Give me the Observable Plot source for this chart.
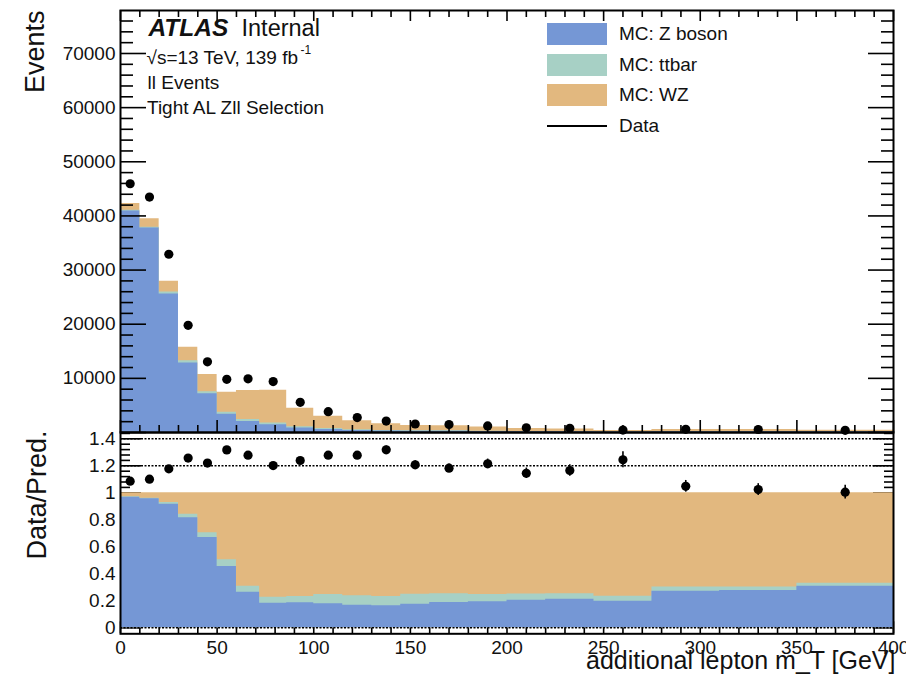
<!DOCTYPE html>
<html>
<head>
<meta charset="utf-8">
<script src="https://cdn.jsdelivr.net/npm/d3@7"></script>
<script src="https://cdn.jsdelivr.net/npm/@observablehq/plot@0.6"></script>
<style>
  html, body { margin: 0; padding: 0; background: #fff; }
  #fig { position: relative; width: 906px; height: 676px; overflow: hidden; background: #fff;
         font-family: "Liberation Sans", Arial, sans-serif; color: #111; }
  #fig svg { position: absolute; left: 0; overflow: visible; }
  .leg-row { position: absolute; left: 547px; height: 22px; }
  .leg-sw { position: absolute; left: 0; top: 0; width: 60px; height: 22px; }
  .leg-line { position: absolute; left: 0; top: 10px; width: 60px; height: 2px; background: #000; }
  .leg-txt { position: absolute; left: 72px; top: 0; line-height: 22px; font-size: 19px; white-space: nowrap; }
</style>
</head>
<body>
<div id="fig"></div>
<script>
// Variable-width bins in additional lepton m_T [GeV]
const binEdges = [0, 10, 20, 30, 40, 50, 60, 72, 86, 100, 115, 130, 145, 160, 180, 200, 220, 245, 275, 310, 350, 400];

// Events per bin for each MC sample and for data
const zBoson = [40900, 37760, 25600, 12836, 7158, 3382, 2046, 1423, 833, 534, 359, 261, 228, 234, 193, 155, 139, 71, 152, 149, 123];
const ttbar  = [150, 150, 335, 410, 375, 373, 341, 352, 212, 207, 151, 110, 94, 81, 54, 36, 28, 13, 17, 14, 9];
const wz     = [1250, 1590, 2015, 2504, 3167, 3695, 5363, 6045, 3455, 2259, 1640, 1229, 978, 935, 753, 569, 493, 276, 391, 377, 268];
const data   = [45938, 43490, 32925, 19798, 13054, 9819, 9912, 9400, 5576, 3837, 2750, 2109, 1569, 1478, 1215, 870, 769, 448, 587, 553, 402];

// Tick labels
const xTickLabels = [0, 50, 100, 150, 200, 250, 300, 350, 400];
const eventTickLabels = [10000, 20000, 30000, 40000, 50000, 60000, 70000];
const ratioTickLabels = [0, 0.2, 0.4, 0.6, 0.8, 1, 1.2, 1.4];

// Legend entries
const legendLabels = ["MC: Z boson", "MC: ttbar", "MC: WZ", "Data"];

const C_Z = "#7597d5", C_TT = "#a7d0c5", C_WZ = "#e2b87f";
const colors = [C_Z, C_TT, C_WZ];

// Panel geometry (pixels) and scale domains
const W = 906;
const L = 120, R = 893;
const TOP_H = 433, TOP_MT = 10, TOP_MB = 1;          // upper pad spans y 10..432
const BOT_TOP = 432, BOT_H = 244, BOT_MB = 42.7;     // ratio pad spans y 432..633.3
const X_DOMAIN = [0, 400];
const TOP_Y = [0, 77940];
const BOT_Y = [-0.0444, 1.4467];

const xu = px => px * (X_DOMAIN[1] - X_DOMAIN[0]) / (R - L);
const yuTop = px => px * (TOP_Y[1] - TOP_Y[0]) / (TOP_H - TOP_MT - TOP_MB);
const yuBot = px => px * (BOT_Y[1] - BOT_Y[0]) / (BOT_H - BOT_MB);

const nb = zBoson.length;
const bins = d3.range(nb).map(i => {
  const z = zBoson[i], t = ttbar[i], w = wz[i], tot = z + t + w;
  return {
    xc: (binEdges[i] + binEdges[i + 1]) / 2,
    z, zt: z + t, tot,
    data: data[i],
    ratio: data[i] / tot,
    err: Math.sqrt(data[i]) / tot
  };
});
// One point per bin edge for step-after areas (last edge repeats last bin)
const steps = binEdges.map((x, i) => {
  const b = bins[Math.min(i, nb - 1)];
  return {x, z: b.z, zt: b.zt, tot: b.tot, zf: b.z / b.tot, ztf: b.zt / b.tot, one: 1};
});

const tick = {stroke: "black", strokeWidth: 1.6};
const font = "Liberation Sans, Arial, sans-serif";

const xMajor = d3.range(0, 401, 50);
const xMinor = d3.range(0, 401, 10).filter(v => v % 50 !== 0);
const yMajorTop = d3.range(0, 70001, 10000);
const yMinorTop = d3.range(2000, TOP_Y[1], 2000).filter(v => v % 10000 !== 0);
const yMajorBot = d3.range(0, 8).map(i => +(i * 0.2).toFixed(2));
const yMinorBot = d3.range(0, 37).map(i => +(i * 0.04).toFixed(2)).filter(v => Math.abs(v / 0.2 - Math.round(v / 0.2)) > 1e-6);

// ---------- upper pad: stacked event counts ----------
const upperPad = Plot.plot({
  width: W, height: TOP_H,
  marginLeft: L, marginRight: W - R, marginTop: TOP_MT, marginBottom: TOP_MB,
  x: {domain: X_DOMAIN, axis: null},
  y: {domain: TOP_Y, axis: null},
  style: {background: "transparent", overflow: "visible", fontFamily: font, color: "#111"},
  marks: [
    Plot.area(steps, {x1: "x", y1: 0, y2: "tot", curve: "step-after", fill: C_WZ}),
    Plot.area(steps, {x1: "x", y1: 0, y2: "zt", curve: "step-after", fill: C_TT}),
    Plot.area(steps, {x1: "x", y1: 0, y2: "z", curve: "step-after", fill: C_Z}),
    // inward ticks
    Plot.ruleY(yMajorTop, {y: d => d, x1: 0, x2: xu(26), ...tick}),
    Plot.ruleY(yMinorTop, {y: d => d, x1: 0, x2: xu(13), ...tick}),
    Plot.ruleY(yMajorTop, {y: d => d, x1: 400 - xu(25), x2: 400, ...tick}),
    Plot.ruleY(yMinorTop, {y: d => d, x1: 400 - xu(12), x2: 400, ...tick}),
    Plot.ruleX(xMajor, {x: d => d, y1: 0, y2: yuTop(12), ...tick}),
    Plot.ruleX(xMinor, {x: d => d, y1: 0, y2: yuTop(7), ...tick}),
    Plot.ruleX(xMajor, {x: d => d, y1: TOP_Y[1] - yuTop(11), y2: TOP_Y[1], ...tick}),
    Plot.ruleX(xMinor, {x: d => d, y1: TOP_Y[1] - yuTop(7), y2: TOP_Y[1], ...tick}),
    // data
    Plot.ruleX(bins, {x: "xc", y1: d => d.data - Math.sqrt(d.data), y2: d => d.data + Math.sqrt(d.data), stroke: "black", strokeWidth: 1.6}),
    Plot.dot(bins, {x: "xc", y: "data", r: 4.6, fill: "black"}),
    Plot.frame({stroke: "black", strokeWidth: 2}),
    // tick labels and titles
    Plot.text(eventTickLabels, {y: d => d, text: d => String(d), frameAnchor: "left", textAnchor: "end", dx: -5, fontSize: 19}),
    Plot.text(["Events"], {frameAnchor: "top-left", rotate: -90, textAnchor: "end", lineAnchor: "middle", dx: 35 - L, dy: 0, fontSize: 27}),
    Plot.text(["ATLAS"], {frameAnchor: "top-left", textAnchor: "start", lineAnchor: "bottom", dx: 28, dy: 25, fontSize: 24.5, fontWeight: "bold", fontStyle: "italic"}),
    Plot.text(["Internal"], {frameAnchor: "top-left", textAnchor: "start", lineAnchor: "bottom", dx: 121, dy: 25, fontSize: 23.5}),
    Plot.text(["√s=13 TeV, 139 fb"], {frameAnchor: "top-left", textAnchor: "start", lineAnchor: "bottom", dx: 26, dy: 53, fontSize: 19}),
    Plot.text(["-1"], {frameAnchor: "top-left", textAnchor: "start", lineAnchor: "bottom", dx: 180, dy: 43, fontSize: 12}),
    Plot.text(["ll Events"], {frameAnchor: "top-left", textAnchor: "start", lineAnchor: "bottom", dx: 27, dy: 78, fontSize: 19}),
    Plot.text(["Tight AL Zll Selection"], {frameAnchor: "top-left", textAnchor: "start", lineAnchor: "bottom", dx: 26.5, dy: 103, fontSize: 19})
  ]
});
upperPad.style.top = "0px";

// ---------- ratio pad: sample fractions and data / prediction ----------
const ratioPad = Plot.plot({
  width: W, height: BOT_H,
  marginLeft: L, marginRight: W - R, marginTop: 0, marginBottom: BOT_MB,
  x: {domain: X_DOMAIN, axis: null},
  y: {domain: BOT_Y, axis: null},
  style: {background: "transparent", overflow: "visible", fontFamily: font, color: "#111"},
  marks: [
    Plot.ruleY(yMajorBot, {y: d => d, x1: 0, x2: xu(21), ...tick}),
    Plot.ruleY(yMinorBot, {y: d => d, x1: 0, x2: xu(10), ...tick}),
    Plot.ruleY(yMajorBot, {y: d => d, x1: 400 - xu(20), x2: 400, ...tick}),
    Plot.ruleY(yMinorBot, {y: d => d, x1: 400 - xu(9), x2: 400, ...tick}),
    Plot.ruleX(xMajor, {x: d => d, y1: BOT_Y[0], y2: BOT_Y[0] + yuBot(12), ...tick}),
    Plot.ruleX(xMinor, {x: d => d, y1: BOT_Y[0], y2: BOT_Y[0] + yuBot(7), ...tick}),
    Plot.area(steps, {x1: "x", y1: 0, y2: "one", curve: "step-after", fill: C_WZ}),
    Plot.area(steps, {x1: "x", y1: 0, y2: "ztf", curve: "step-after", fill: C_TT}),
    Plot.area(steps, {x1: "x", y1: 0, y2: "zf", curve: "step-after", fill: C_Z}),
    Plot.ruleY([0, 1.2, 1.4], {y: d => d, stroke: "black", strokeWidth: 1.5, strokeDasharray: "2,1.5"}),
    Plot.ruleX(bins, {x: "xc", y1: d => d.ratio - d.err, y2: d => d.ratio + d.err, stroke: "black", strokeWidth: 1.6}),
    Plot.dot(bins, {x: "xc", y: "ratio", r: 4.6, fill: "black"}),
    Plot.frame({stroke: "black", strokeWidth: 2}),
    Plot.text(ratioTickLabels, {y: d => d, text: d => String(d), frameAnchor: "left", textAnchor: "end", dx: -5, fontSize: 19}),
    Plot.text(xTickLabels, {x: d => d, text: d => String(d), frameAnchor: "bottom", lineAnchor: "middle", dy: 13.7, fontSize: 19}),
    Plot.text(["Data/Pred."], {frameAnchor: "top-left", rotate: -90, textAnchor: "end", lineAnchor: "middle", dx: 37 - L, dy: -2, fontSize: 27}),
    Plot.text(["additional lepton m_T [GeV]"], {frameAnchor: "bottom-right", textAnchor: "end", lineAnchor: "bottom", dx: 2, dy: 34.7, fontSize: 25})
  ]
});
ratioPad.style.top = BOT_TOP + "px";

const fig = document.getElementById("fig");
fig.appendChild(upperPad);
fig.appendChild(ratioPad);

// ---------- legend ----------
const legend = d3.select(fig).append("div");
legendLabels.forEach((label, i) => {
  const row = legend.append("div").attr("class", "leg-row").style("top", (23 + i * 30.7) + "px");
  if (i < colors.length) row.append("div").attr("class", "leg-sw").style("background", colors[i]);
  else row.append("div").attr("class", "leg-line");
  row.append("div").attr("class", "leg-txt").text(label);
});
</script>
</body>
</html>
